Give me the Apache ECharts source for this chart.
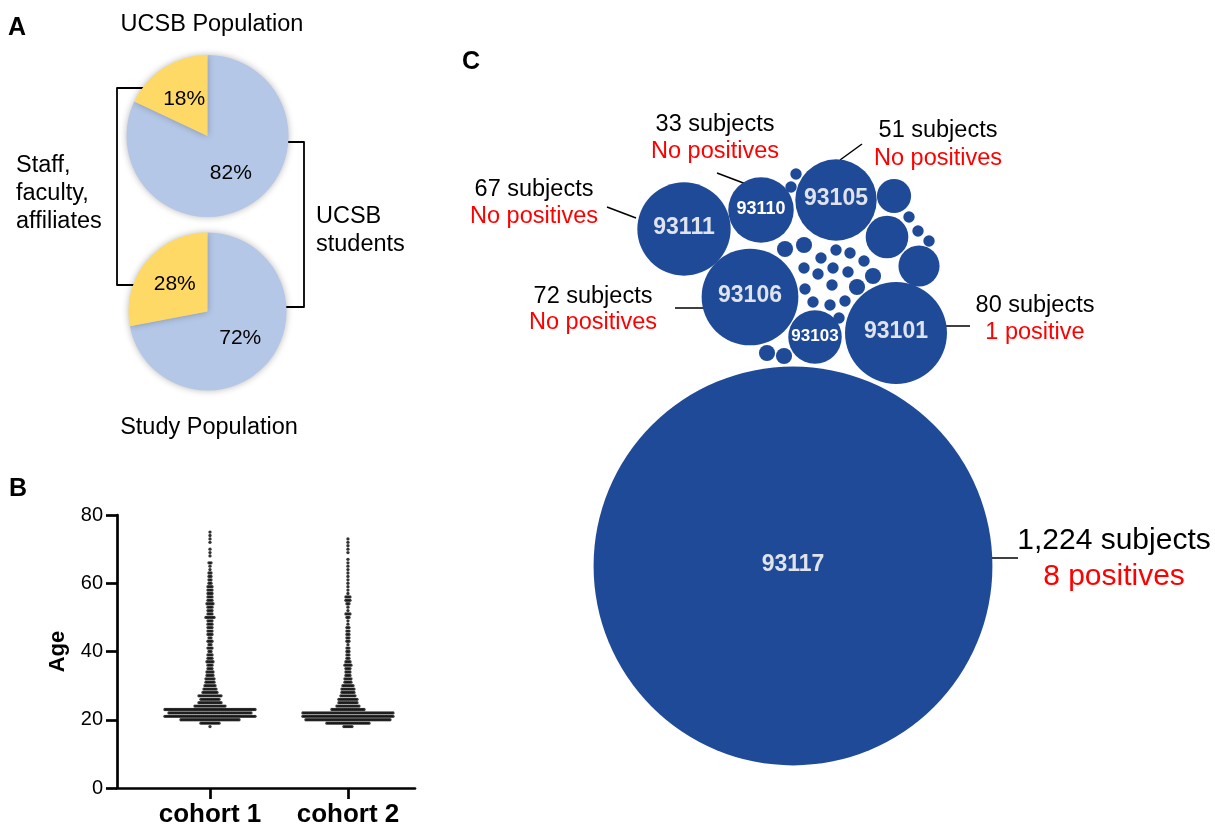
<!DOCTYPE html>
<html><head><meta charset="utf-8">
<script src="https://cdn.jsdelivr.net/npm/echarts@6/dist/echarts.min.js"></script>
<style>html,body{margin:0;padding:0;background:#fff}#c{width:1215px;height:831px}</style>
</head><body><div id="c"></div>
<script>
const FONT = '"Liberation Sans", Arial, Helvetica, sans-serif';

// ---------- Panel A data ----------
const pieCategories = ['UCSB students', 'Staff, faculty, affiliates'];
const ucsbPopulationPct = [82, 18];
const studyPopulationPct = [72, 28];

// ---------- Panel B data (dots per year of age) ----------
const cohortNames = ['cohort 1', 'cohort 2'];
const ageTicks = [0, 20, 40, 60, 80];
const ages = [18,19,20,21,22,23,24,25,26,27,28,29,30,31,32,33,34,35,36,37,38,39,40,41,42,43,44,45,46,47,48,49,50,51,52,53,54,55,56,57,58,59,60,61,62,63,64,65,66,67,68,69,70,71,72,73,74,75];
const cohort1Dots = [1,10,30,46,42,46,16,12,10,12,8,7,6,5,5,4,4,3,3,4,3,3,2,3,2,3,2,3,3,3,3,3,5,3,3,3,4,3,3,3,3,3,2,2,2,2,1,1,2,0,1,1,1,0,1,1,1,1];
const cohort2Dots = [5,22,43,46,46,17,12,10,10,8,7,7,6,4,4,3,3,3,4,3,2,2,2,2,1,2,2,2,2,2,1,1,2,3,1,1,2,3,3,1,1,1,1,1,1,1,1,1,1,1,0,1,1,1,1,1,0,0];

// ---------- Panel C data (zip code bubbles, layout units) ----------
const zipCodes    = ['93117','93101','93106','93111','93105','93110','93103','','','','','','','','','','','','','','','','','','','','','','','','','','','',''];
const zipSubjects = [1224, 80, 72, 67, 51, 33, 22, 9, 14, 13, 1, 1, 1, 1, 1, 2, 2, 2, 2, 1, 1, 1, 1, 2, 2, 1, 1, 1, 1, 1, 1, 1, 1, 1, 1];
const zipLayoutX  = [0, 103, -43, -109, 43, -32, 22, 101, 94, 126, 116, 125, 136, 3, -2, -26, -9, -8, 11, 28, 43, 57, 71, 80, 64, 52, 37, 20, 12, 11, 25, 40, 55, 39, 46];
const zipLayoutY  = [0, 233, 269, 337, 366, 356, 229, 370, 329, 300, 349, 335, 325, 392, 379, 213, 210, 317, 321, 308, 316, 313, 305, 290, 279, 265, 261, 264, 277, 298, 292, 298, 294, 281, 248];

const noteSubjects  = ['1,224 subjects', '80 subjects', '72 subjects', '67 subjects', '51 subjects', '33 subjects'];
const notePositives = ['8 positives', '1 positive', 'No positives', 'No positives', 'No positives', 'No positives'];

// ---------- build ----------
const xMin = 0.326, xMax = 2.486, gridBWidth = 298;
const dotStep = 2 * (xMax - xMin) / gridBWidth;
function swarm(counts, center) {
  const pts = [];
  counts.forEach(function (n, k) {
    for (let i = 0; i < n; i++) pts.push([center + (i - (n - 1) / 2) * dotStep, ages[k]]);
  });
  return pts;
}
const bubbleData = zipCodes.map(function (z, i) { return [zipLayoutX[i], zipLayoutY[i], zipSubjects[i]]; });
const R_PER_SQRT = 5.7;
const zipFont = {'93110': 18, '93103': 17};
const zipColor = {'93110': '#ffffff', '93103': '#ffffff'};

function pie(values, cy, r) {
  return {
    type: 'pie', center: [207.5, cy], radius: r, startAngle: 90, clockwise: true,
    silent: true,
    label: {show: true, position: 'inside', formatter: '{c}%', fontSize: 21, color: '#000', fontFamily: FONT},
    labelLine: {show: false},
    itemStyle: {shadowBlur: 7, shadowColor: 'rgba(0,0,0,0.28)'},
    data: values.map(function (v, i) {
      return {name: pieCategories[i], value: v, itemStyle: {color: i === 0 ? '#b4c7e7' : '#ffd966'}};
    })
  };
}

function txt(t, x, y, size, opts) {
  opts = opts || {};
  return {type: 'text', x: x, y: y, silent: true, style: {
    text: t, fill: opts.color || '#000', fontSize: size, fontFamily: FONT,
    fontWeight: opts.bold ? 'bold' : 'normal',
    textAlign: opts.align || 'center', align: opts.align || 'center',
    textVerticalAlign: 'middle', verticalAlign: 'middle'
  }};
}
function line(pts, w) {
  return {type: 'polyline', silent: true, shape: {points: pts}, style: {stroke: '#000', lineWidth: w || 1.5, fill: null, lineJoin: 'round'}};
}

const FA = 23.5, FN = 23.5, FL = 25;
const graphics = [
  txt('A', 8, 28, FL, {bold: true, align: 'left'}),
  txt('UCSB Population', 212, 25, FA),
  txt('Study Population', 209, 428, FA),
  txt('Staff,', 16, 166, FA, {align: 'left'}),
  txt('faculty,', 16, 194, FA, {align: 'left'}),
  txt('affiliates', 16, 222, FA, {align: 'left'}),
  txt('UCSB', 316, 217, FA, {align: 'left'}),
  txt('students', 316, 245, FA, {align: 'left'}),
  line([[146, 88], [117, 88], [117, 285], [146, 285]], 1.8),
  line([[277, 142], [304, 142], [304, 307], [277, 307]], 1.8),
  txt('B', 9, 489, FL, {bold: true, align: 'left'}),
  txt('C', 462, 62, FL, {bold: true, align: 'left'}),
  // panel C notes
  txt(noteSubjects[0], 1114, 541, 30), txt(notePositives[0], 1114, 577, 30, {color: '#ff0000'}),
  txt(noteSubjects[1], 1035, 306, FN), txt(notePositives[1], 1035, 333, FN, {color: '#ff0000'}),
  txt(noteSubjects[2], 593, 297, FN), txt(notePositives[2], 593, 323, FN, {color: '#ff0000'}),
  txt(noteSubjects[3], 534, 190, FN), txt(notePositives[3], 534, 217, FN, {color: '#ff0000'}),
  txt(noteSubjects[4], 938, 131, FN), txt(notePositives[4], 938, 159, FN, {color: '#ff0000'}),
  txt(noteSubjects[5], 715, 125, FN), txt(notePositives[5], 715, 152, FN, {color: '#ff0000'}),
  line([[989, 558], [1018, 558]]),
  line([[945, 326], [970, 326]]),
  line([[675, 308], [705, 308]]),
  line([[607, 207], [636, 218]]),
  line([[840, 160], [862, 144]]),
  line([[717, 173], [746, 184]])
];

const chart = echarts.init(document.getElementById('c'), null, {renderer: 'canvas'});
chart.setOption({
  animation: false,
  backgroundColor: '#fff',
  textStyle: {fontFamily: FONT},
  grid: [
    {left: 117, top: 515, width: gridBWidth, height: 273},
    {left: 560, top: 100, width: 600, height: 700}
  ],
  xAxis: [
    {type: 'value', gridIndex: 0, min: xMin, max: xMax,
     axisLine: {show: true, onZero: false, lineStyle: {color: '#000', width: 2.7}},
     axisTick: {show: true, customValues: [1, 2], length: 11, lineStyle: {color: '#000', width: 2.7}},
     axisLabel: {customValues: [1, 2], formatter: function (v) { return cohortNames[Math.round(v) - 1]; },
       fontSize: 26, fontWeight: 'bold', color: '#000', margin: 14, fontFamily: FONT},
     splitLine: {show: false}},
    {type: 'value', gridIndex: 1, min: -233, max: 367, show: false}
  ],
  yAxis: [
    {type: 'value', gridIndex: 0, min: ageTicks[0], max: ageTicks[ageTicks.length - 1], interval: 20,
     name: 'Age', nameLocation: 'middle', nameGap: 48, nameRotate: 90,
     nameTextStyle: {fontSize: 22, fontWeight: 'bold', color: '#000', fontFamily: FONT},
     axisLine: {show: true, onZero: false, lineStyle: {color: '#000', width: 2.7}},
     axisTick: {show: true, length: 11, lineStyle: {color: '#000', width: 2.7}},
     axisLabel: {fontSize: 20, color: '#000', margin: 14, fontFamily: FONT},
     splitLine: {show: false}},
    {type: 'value', gridIndex: 1, min: -234, max: 466, show: false}
  ],
  series: [
    pie(ucsbPopulationPct, 136, 81),
    pie(studyPopulationPct, 311.5, 79),
    {type: 'scatter', xAxisIndex: 0, yAxisIndex: 0, symbol: 'circle', symbolSize: 3.3, silent: true,
     itemStyle: {color: '#000'}, data: swarm(cohort1Dots, 1)},
    {type: 'scatter', xAxisIndex: 0, yAxisIndex: 0, symbol: 'circle', symbolSize: 3.3, silent: true,
     itemStyle: {color: '#000'}, data: swarm(cohort2Dots, 2)},
    {type: 'custom', xAxisIndex: 1, yAxisIndex: 1, silent: true, data: bubbleData, encode: {x: 0, y: 1},
     renderItem: function (params, api) {
       const i = params.dataIndex;
       const c = api.coord([api.value(0), api.value(1)]);
       const r = api.size([R_PER_SQRT * Math.sqrt(api.value(2)), 0])[0];
       const kids = [{type: 'circle', shape: {cx: c[0], cy: c[1], r: r}, style: {fill: '#1f4a97'}}];
       const z = zipCodes[i];
       if (z) {
         kids.push({type: 'text', x: c[0], y: c[1] - 1, style: {
           text: z, fill: zipColor[z] || '#dfe3ec', fontSize: zipFont[z] || 23, fontWeight: 'bold', fontFamily: FONT,
           align: 'center', verticalAlign: 'middle'}});
       }
       return {type: 'group', children: kids};
     }}
  ],
  graphic: graphics
});
</script></body></html>
